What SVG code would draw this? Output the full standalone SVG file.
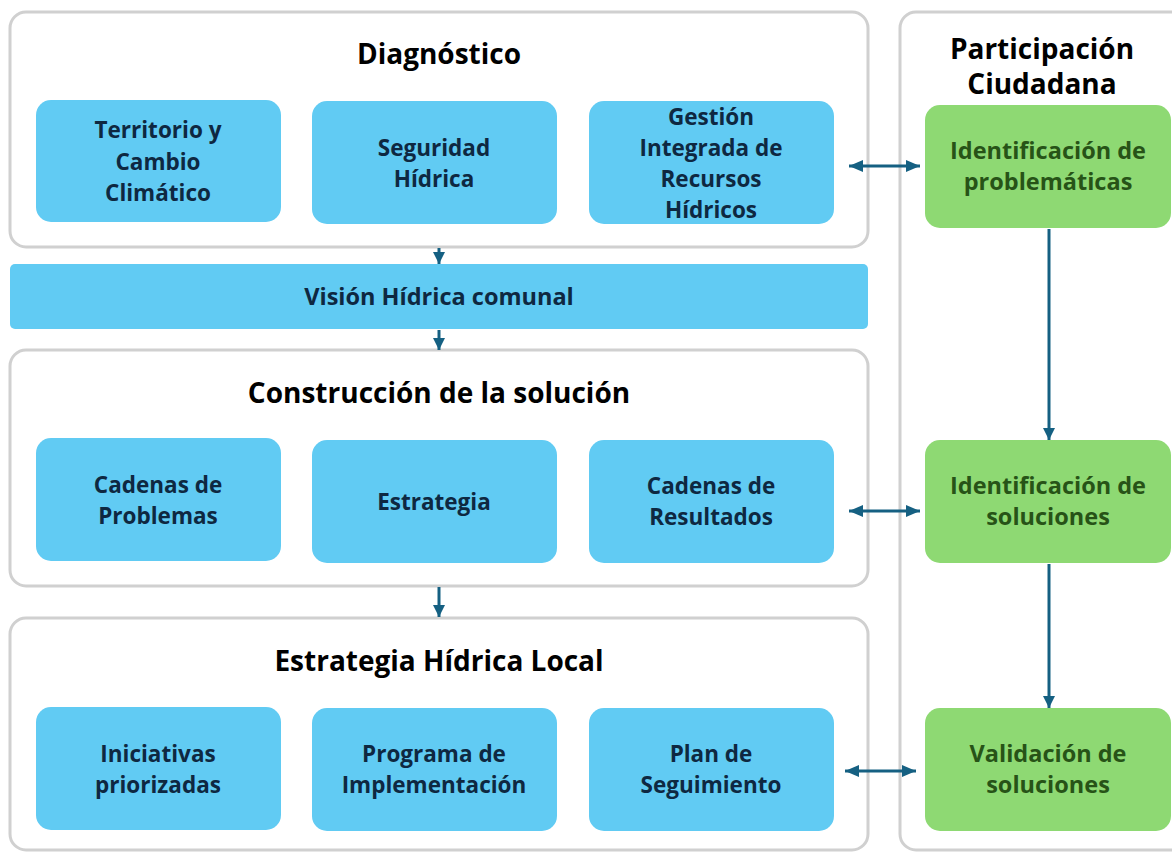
<svg xmlns="http://www.w3.org/2000/svg" width="1172" height="852" viewBox="0 0 1172 852">
<style>
.panel{fill:#ffffff;stroke:#d0d0d0;stroke-width:3}
.blue{fill:#61cbf3}
.green{fill:#8ed973}
.title{font-family:"Open Sans","Liberation Sans",sans-serif;font-weight:700;font-size:28px;fill:#000000;text-anchor:middle}
.bt{font-family:"Open Sans","Liberation Sans",sans-serif;font-weight:700;font-size:22.5px;fill:#0e2841;text-anchor:middle}
.gt{font-family:"Open Sans","Liberation Sans",sans-serif;font-weight:700;font-size:23.5px;fill:#275317;text-anchor:middle}
.conn{stroke:#156082;stroke-width:3;fill:none}
</style>
<defs>
<marker id="ah" markerUnits="userSpaceOnUse" viewBox="0 0 14 12" refX="14" refY="6" markerWidth="14" markerHeight="12" orient="auto-start-reverse">
<path d="M0,0 L14,6 L0,12 Z" fill="#156082"/>
</marker>
<marker id="ahs" markerUnits="userSpaceOnUse" viewBox="0 0 12 12" refX="12" refY="6" markerWidth="12" markerHeight="12" orient="auto">
<path d="M0,0 L12,6 L0,12 Z" fill="#156082"/>
</marker>
</defs>

<g id="panel-participacion">
<rect class="panel" x="900" y="12" width="300" height="838" rx="16"/>
<text class="title" x="1042" y="59">Participación</text>
<text class="title" x="1042" y="94">Ciudadana</text>
</g>

<g id="panel-diagnostico">
<rect class="panel" x="10" y="12" width="858" height="235" rx="16"/>
<text class="title" x="439" y="64">Diagnóstico</text>
</g>

<g id="panel-construccion">
<rect class="panel" x="10" y="350" width="858" height="236" rx="16"/>
<text class="title" x="439" y="403">Construcción de la solución</text>
</g>

<g id="panel-estrategia">
<rect class="panel" x="10" y="618" width="858" height="232" rx="16"/>
<text class="title" x="439" y="671">Estrategia Hídrica Local</text>
</g>

<g id="territorio">
<rect class="blue" x="36" y="100" width="245" height="122" rx="15"/>
<text class="bt" x="158" y="138">Territorio y</text>
<text class="bt" x="158" y="170">Cambio</text>
<text class="bt" x="158" y="201">Climático</text>
</g>
<g id="seguridad">
<rect class="blue" x="312" y="101" width="245" height="123" rx="15"/>
<text class="bt" x="434" y="156">Seguridad</text>
<text class="bt" x="434" y="187">Hídrica</text>
</g>
<g id="gestion">
<rect class="blue" x="589" y="101" width="245" height="123" rx="15"/>
<text class="bt" x="711" y="125">Gestión</text>
<text class="bt" x="711" y="156">Integrada de</text>
<text class="bt" x="711" y="187">Recursos</text>
<text class="bt" x="711" y="218">Hídricos</text>
</g>

<g id="vision">
<rect class="blue" x="10" y="264" width="858" height="65" rx="5"/>
<text class="bt" x="439" y="305" style="font-size:23.5px">Visión Hídrica comunal</text>
</g>

<g id="cadenas-problemas">
<rect class="blue" x="36" y="438" width="245" height="123" rx="15"/>
<text class="bt" x="158" y="493">Cadenas de</text>
<text class="bt" x="158" y="524">Problemas</text>
</g>
<g id="estrategia">
<rect class="blue" x="312" y="440" width="245" height="123" rx="15"/>
<text class="bt" x="434" y="510">Estrategia</text>
</g>
<g id="cadenas-resultados">
<rect class="blue" x="589" y="440" width="245" height="123" rx="15"/>
<text class="bt" x="711" y="494">Cadenas de</text>
<text class="bt" x="711" y="525">Resultados</text>
</g>

<g id="iniciativas">
<rect class="blue" x="36" y="707" width="245" height="123" rx="15"/>
<text class="bt" x="158" y="762">Iniciativas</text>
<text class="bt" x="158" y="793">priorizadas</text>
</g>
<g id="programa">
<rect class="blue" x="312" y="708" width="245" height="123" rx="15"/>
<text class="bt" x="434" y="762">Programa de</text>
<text class="bt" x="434" y="793">Implementación</text>
</g>
<g id="plan">
<rect class="blue" x="589" y="708" width="245" height="123" rx="15"/>
<text class="bt" x="711" y="762">Plan de</text>
<text class="bt" x="711" y="793">Seguimiento</text>
</g>

<g id="id-problematicas">
<rect class="green" x="925" y="105" width="246" height="123" rx="15"/>
<text class="gt" x="1048" y="159">Identificación de</text>
<text class="gt" x="1048" y="190">problemáticas</text>
</g>
<g id="id-soluciones">
<rect class="green" x="925" y="440" width="246" height="123" rx="15"/>
<text class="gt" x="1048" y="494">Identificación de</text>
<text class="gt" x="1048" y="525">soluciones</text>
</g>
<g id="validacion">
<rect class="green" x="925" y="708" width="246" height="123" rx="15"/>
<text class="gt" x="1048" y="762">Validación de</text>
<text class="gt" x="1048" y="793">soluciones</text>
</g>

<g id="connectors">
<line class="conn" x1="439" y1="248" x2="439" y2="264" marker-end="url(#ahs)"/>
<line class="conn" x1="439" y1="330" x2="439" y2="350" marker-end="url(#ahs)"/>
<line class="conn" x1="439" y1="587" x2="439" y2="617" marker-end="url(#ahs)"/>
<line class="conn" x1="849" y1="166" x2="920" y2="166" marker-start="url(#ah)" marker-end="url(#ah)"/>
<line class="conn" x1="849" y1="511" x2="920" y2="511" marker-start="url(#ah)" marker-end="url(#ah)"/>
<line class="conn" x1="845" y1="771" x2="916" y2="771" marker-start="url(#ah)" marker-end="url(#ah)"/>
<line class="conn" x1="1049" y1="229" x2="1049" y2="440" marker-end="url(#ahs)"/>
<line class="conn" x1="1049" y1="564" x2="1049" y2="708" marker-end="url(#ahs)"/>
</g>
</svg>
